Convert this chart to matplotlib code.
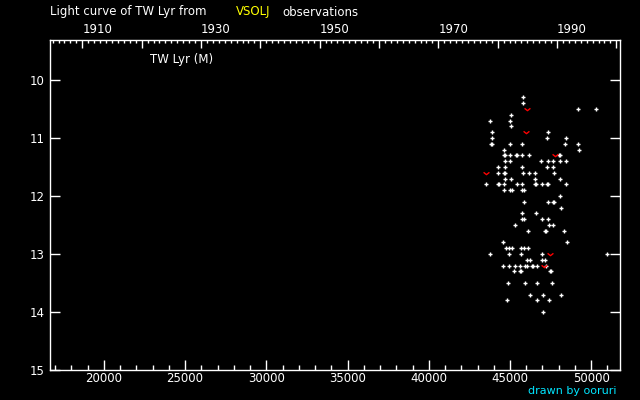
import matplotlib
matplotlib.use("Agg")
import matplotlib.pyplot as plt
from matplotlib.path import Path
from datetime import date

# ---- data (JD - 2400000, visual magnitude) ----
jd_obs = [45819, 45819, 49205, 50313, 45080, 43787, 45019, 45080, 47358, 43911,
          47296, 48466, 43911, 43850, 43911, 45019, 45758, 48404, 49205, 44650,
          49266, 44650, 44711, 45019, 45388, 45450, 45758, 46188, 48035, 48097,
          44711, 45019, 46927, 47358, 47666, 48097, 48466, 44280, 44711, 45758,
          47296, 47666, 44280, 44650, 44711, 45819, 46188, 46558, 47727, 44711,
          45080, 46558, 48097, 43541, 44280, 44342, 44650, 45450, 45758, 46558,
          46619, 46989, 47296, 47358, 48466, 44650, 45019, 45142, 45758, 45881,
          48097, 45881, 47358, 47666, 47727, 48158, 45758, 46619, 45758, 45881,
          46989, 47358, 45327, 47419, 47666, 46127, 47173, 47235, 48343, 44588,
          48528, 44773, 44957, 45142, 45696, 45881, 46127, 43787, 44957, 45696,
          46989, 50990, 46065, 46250, 46989, 47173, 44588, 44957, 45327, 45634,
          45942, 46065, 46367, 46429, 46681, 47235, 45265, 45603, 45665, 47450,
          47512, 44896, 45942, 46681, 47604, 46250, 47050, 48158, 44834, 46681,
          47419, 47050]
mag_obs = [10.3, 10.4, 10.5, 10.5, 10.6, 10.7, 10.7, 10.8, 10.9, 10.9,
           11.0, 11.0, 11.0, 11.1, 11.1, 11.1, 11.1, 11.1, 11.1, 11.2,
           11.2, 11.3, 11.3, 11.3, 11.3, 11.3, 11.3, 11.3, 11.3, 11.3,
           11.4, 11.4, 11.4, 11.4, 11.4, 11.4, 11.4, 11.5, 11.5, 11.5,
           11.5, 11.5, 11.6, 11.6, 11.6, 11.6, 11.6, 11.6, 11.6, 11.7,
           11.7, 11.7, 11.7, 11.8, 11.8, 11.8, 11.8, 11.8, 11.8, 11.8,
           11.8, 11.8, 11.8, 11.8, 11.8, 11.9, 11.9, 11.9, 11.9, 11.9,
           12.0, 12.1, 12.1, 12.1, 12.1, 12.2, 12.3, 12.3, 12.4, 12.4,
           12.4, 12.4, 12.5, 12.5, 12.5, 12.6, 12.6, 12.6, 12.6, 12.8,
           12.8, 12.9, 12.9, 12.9, 12.9, 12.9, 12.9, 13.0, 13.0, 13.0,
           13.0, 13.0, 13.1, 13.1, 13.1, 13.1, 13.2, 13.2, 13.2, 13.2,
           13.2, 13.2, 13.2, 13.2, 13.2, 13.2, 13.3, 13.3, 13.3, 13.3,
           13.3, 13.5, 13.5, 13.5, 13.5, 13.7, 13.7, 13.7, 13.8, 13.8,
           13.8, 14.0]
# fainter-than observations (red marks)
jd_faint = [46065, 46004, 47789, 43504, 47481, 47087]
mag_faint = [10.5, 10.9, 11.3, 11.6, 13.0, 13.2]

jd_ticks = [20000, 25000, 30000, 35000, 40000, 45000, 50000]
mag_ticks = [10, 11, 12, 13, 14, 15]
year_labels = [1910, 1930, 1950, 1970, 1990]
year_first, year_last = 1905, 2000

star = "TW Lyr (M)"


def year_to_jd(y):
    # JD - 2400000 at Jan 1.0 of year y
    return (date(y, 1, 1) - date(1858, 11, 17)).days + 0.5


xmin, xmax = 16684, 51772
ymin, ymax = 15.0, 9.31
FS = 8.5

fig = plt.figure(figsize=(6.4, 4.0), dpi=100, facecolor="black")
ax = fig.add_axes([50 / 640, 30 / 400, 570 / 640, 330 / 400])
ax.set_facecolor("black")
for s in ax.spines.values():
    s.set_color("white")
    s.set_linewidth(1.0)

ax.set_xlim(xmin, xmax)
ax.set_ylim(ymin, ymax)

vmark = Path([(-1, 0.4), (0, -0.4), (1, 0.4)],
             [Path.MOVETO, Path.LINETO, Path.LINETO])

ax.plot(jd_obs, mag_obs, linestyle="none", marker="+", ms=3.0, mew=1.0,
        color="white")
ax.plot(jd_faint, mag_faint, linestyle="none", marker=vmark, ms=4.2, mew=1.0,
        color="red", mfc="none")

# bottom axis (JD)
ax.set_xticks(jd_ticks)
ax.set_xticks(list(range(17000, 52000, 1000)), minor=True)
ax.set_xticklabels([str(v) for v in jd_ticks])
ax.tick_params(axis="x", which="major", direction="in", length=7.2, width=1,
               color="white", labelcolor="white", labelsize=FS, pad=1.5,
               top=False)
ax.tick_params(axis="x", which="minor", direction="in", length=3.6, width=1,
               color="white", top=False)

# left / right axis (magnitude)
ax.set_yticks(mag_ticks)
ax.set_yticklabels([str(v) for v in mag_ticks])
ax.tick_params(axis="y", which="major", direction="in", length=7.2, width=1,
               color="white", labelcolor="white", labelsize=FS, pad=4,
               right=True)
ax.tick_params(axis="y", which="minor", left=False, right=False)

# top axis (years)
ax2 = ax.twiny()
ax2.set_xlim(xmin, xmax)
maj_years = list(range(1910, year_last + 1, 10))
ax2.set_xticks([year_to_jd(y) for y in maj_years])
ax2.set_xticklabels([str(y) if y in year_labels else "" for y in maj_years])
ax2.set_xticks([year_to_jd(y) for y in range(year_first, year_last + 1)],
               minor=True)
for lab in ax2.get_xticklabels():
    lab.set_horizontalalignment("left")
ax2.tick_params(axis="x", which="major", direction="in", length=5.8, width=1,
                color="white", labelcolor="white", labelsize=FS, pad=3)
ax2.tick_params(axis="x", which="minor", direction="in", length=2.4, width=1,
                color="white")
for s in ax2.spines.values():
    s.set_visible(False)

# texts
fig.text(50 / 640, 1 - 12 / 400, "Light curve of TW Lyr from", color="white",
         fontsize=FS, ha="left", va="center")
fig.text(236 / 640, 1 - 12 / 400, "VSOLJ", color="#ffff00", fontsize=FS,
         ha="left", va="center")
fig.text(282 / 640, 1 - 12 / 400, "observations", color="white", fontsize=FS,
         ha="left", va="center")
fig.text(150 / 640, 1 - 60 / 400, star, color="white", fontsize=FS,
         ha="left", va="center")
fig.text(617 / 640, 1 - 394 / 400, "drawn by ooruri", color="#00e5ff",
         fontsize=8, ha="right", va="baseline")

fig.savefig("out.png", dpi=100, facecolor="black")
